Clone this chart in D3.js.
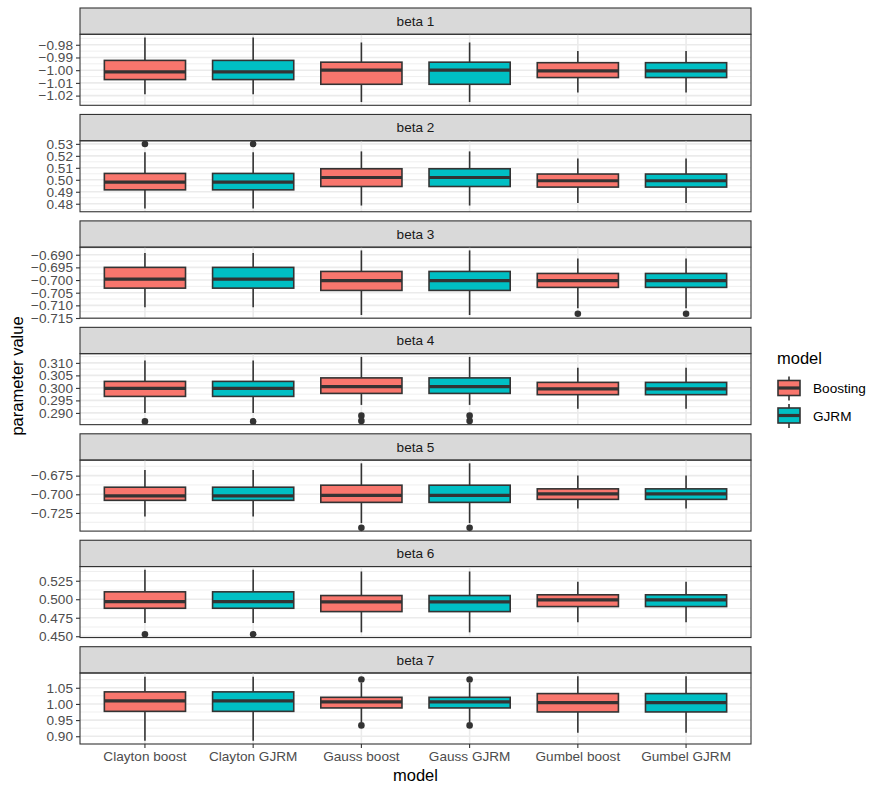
<!DOCTYPE html>
<html>
<head>
<meta charset="utf-8">
<script src="https://cdn.jsdelivr.net/npm/d3@7"></script>
<style>
  body { margin: 0; background: #fff; }
  svg { display: block; font-family: "Liberation Sans", Arial, sans-serif; }
</style>
</head>
<body>
<svg id="chart" width="882" height="794"></svg>
<script>
// ---- data -------------------------------------------------------------
const facets = ["beta 1", "beta 2", "beta 3", "beta 4", "beta 5", "beta 6", "beta 7"];
const models = ["Clayton boost", "Clayton GJRM", "Gauss boost", "Gauss GJRM", "Gumbel boost", "Gumbel GJRM"];
const modelGroup = ["Boosting", "GJRM", "Boosting", "GJRM", "Boosting", "GJRM"];
const groups = ["Boosting", "GJRM"];

// box statistics, one row per facet, one value per model
const whiskerLow = [
  [-1.0190, -1.0190, -1.0251, -1.0251, -1.0175, -1.0175],
  [0.4760, 0.4760, 0.4785, 0.4785, 0.4807, 0.4807],
  [-0.7107, -0.7107, -0.7138, -0.7138, -0.7111, -0.7111],
  [0.2900, 0.2900, 0.2932, 0.2932, 0.2917, 0.2917],
  [-0.7297, -0.7297, -0.7386, -0.7386, -0.7189, -0.7189],
  [0.4680, 0.4680, 0.4553, 0.4553, 0.4688, 0.4688],
  [0.886, 0.886, 0.944, 0.944, 0.911, 0.911]
];
const q1 = [
  [-1.0074, -1.0074, -1.0111, -1.0111, -1.0058, -1.0058],
  [0.4916, 0.4916, 0.4944, 0.4944, 0.4939, 0.4939],
  [-0.7032, -0.7032, -0.7041, -0.7041, -0.7029, -0.7029],
  [0.2966, 0.2966, 0.2978, 0.2978, 0.2973, 0.2973],
  [-0.7081, -0.7081, -0.7108, -0.7108, -0.7068, -0.7068],
  [0.4878, 0.4878, 0.4833, 0.4833, 0.4901, 0.4901],
  [0.977, 0.977, 0.9876, 0.9876, 0.9752, 0.9752]
];
const median = [
  [-1.0013, -1.0013, -1.0000, -1.0000, -1.0005, -1.0005],
  [0.4981, 0.4981, 0.5019, 0.5019, 0.4992, 0.4992],
  [-0.6996, -0.6996, -0.7002, -0.7002, -0.7002, -0.7002],
  [0.2998, 0.2998, 0.3005, 0.3005, 0.2996, 0.2996],
  [-0.7020, -0.7020, -0.7014, -0.7014, -0.6995, -0.6995],
  [0.4969, 0.4969, 0.4965, 0.4965, 0.4992, 0.4992],
  [1.0093, 1.0093, 1.0062, 1.0062, 1.004, 1.004]
];
const q3 = [
  [-0.9923, -0.9923, -0.9937, -0.9937, -0.9941, -0.9941],
  [0.5053, 0.5053, 0.5092, 0.5092, 0.5048, 0.5048],
  [-0.6950, -0.6950, -0.6966, -0.6966, -0.6974, -0.6974],
  [0.3026, 0.3026, 0.3040, 0.3040, 0.3022, 0.3022],
  [-0.6905, -0.6905, -0.6878, -0.6878, -0.6927, -0.6927],
  [0.5100, 0.5100, 0.5050, 0.5050, 0.5060, 0.5060],
  [1.0373, 1.0373, 1.0205, 1.0205, 1.032, 1.032]
];
const whiskerHigh = [
  [-0.9743, -0.9743, -0.9782, -0.9782, -0.9849, -0.9849],
  [0.5229, 0.5229, 0.5237, 0.5237, 0.5178, 0.5178],
  [-0.6893, -0.6893, -0.6883, -0.6883, -0.6915, -0.6915],
  [0.3110, 0.3110, 0.3124, 0.3124, 0.3081, 0.3081],
  [-0.6676, -0.6676, -0.6585, -0.6585, -0.6747, -0.6747],
  [0.5398, 0.5398, 0.5375, 0.5375, 0.5236, 0.5236],
  [1.0839, 1.0839, 1.065, 1.065, 1.0857, 1.0857]
];
const outliers = [
  [[], [], [], [], [], []],
  [[0.5299], [0.5299], [], [], [], []],
  [[], [], [], [], [-0.7133], [-0.7133]],
  [[0.2866], [0.2866], [0.2889, 0.2868], [0.2889, 0.2868], [], []],
  [[], [], [-0.7450], [-0.7450], [], []],
  [[0.4526], [0.4526], [], [], [], []],
  [[], [], [1.0755, 0.9335], [1.0755, 0.9335], [], []]
];

// tick values shown on each facet's y axis
const yTicks = [
  [-1.02, -1.01, -1.00, -0.99, -0.98],
  [0.48, 0.49, 0.50, 0.51, 0.52, 0.53],
  [-0.715, -0.710, -0.705, -0.700, -0.695, -0.690],
  [0.290, 0.295, 0.300, 0.305, 0.310],
  [-0.725, -0.700, -0.675],
  [0.450, 0.475, 0.500, 0.525],
  [0.90, 0.95, 1.00, 1.05]
];
const yTickFormat = [".2f", ".2f", ".3f", ".3f", ".3f", ".3f", ".2f"];

// ---- layout -----------------------------------------------------------
const svg = d3.select("#chart");
const plotLeft = 80, plotRight = 751, plotTop = 8, plotBottom = 744;
const stripH = 26.3, gap = 9.15;
const facetH = (plotBottom - plotTop - gap * (facets.length - 1)) / facets.length;
const panelH = facetH - stripH;
const smallFont = 13.6, titleFont = 16.5;

const fill = d3.scaleOrdinal().domain(groups).range(["#F8766D", "#00BFC4"]);
const x = d3.scaleBand().domain(models).range([plotLeft, plotRight]).paddingInner(0).paddingOuter(0.1);
const boxW = x.bandwidth() * 0.75;
const cx = m => x(m) + x.bandwidth() / 2;
const ink = "#333333";
const fmtMinus = s => s.replace("-", "\u2212");

facets.forEach((name, f) => {
  const y0 = plotTop + f * (facetH + gap);
  const py0 = y0 + stripH, py1 = py0 + panelH;

  const all = whiskerLow[f].concat(whiskerHigh[f], outliers[f].flat());
  const lo = d3.min(all), hi = d3.max(all), pad = (hi - lo) * 0.05;
  const y = d3.scaleLinear().domain([lo - pad, hi + pad]).range([py1, py0]);

  const g = svg.append("g");

  // strip
  g.append("rect").attr("x", plotLeft).attr("y", y0).attr("width", plotRight - plotLeft).attr("height", stripH)
    .attr("fill", "#D9D9D9").attr("stroke", ink).attr("stroke-width", 1.1);
  g.append("text").attr("x", (plotLeft + plotRight) / 2).attr("y", y0 + stripH / 2 + 4.8)
    .attr("text-anchor", "middle").attr("font-size", smallFont).attr("fill", "#1A1A1A").text(name);

  // grid
  const ticks = yTicks[f];
  const step = ticks[1] - ticks[0];
  const [dLo, dHi] = y.domain();
  const minors = [];
  for (let v = ticks[0] - step * Math.ceil((ticks[0] - dLo) / step) - step / 2; v <= dHi; v += step) {
    if (v >= dLo) minors.push(v);
  }
  g.selectAll(".minor").data(minors).join("line")
    .attr("x1", plotLeft).attr("x2", plotRight).attr("y1", d => y(d)).attr("y2", d => y(d))
    .attr("stroke", "#EBEBEB").attr("stroke-width", 0.8);
  g.selectAll(".major").data(ticks).join("line")
    .attr("x1", plotLeft).attr("x2", plotRight).attr("y1", d => y(d)).attr("y2", d => y(d))
    .attr("stroke", "#EBEBEB").attr("stroke-width", 1.6);
  g.selectAll(".vgrid").data(models).join("line")
    .attr("x1", cx).attr("x2", cx).attr("y1", py0).attr("y2", py1)
    .attr("stroke", "#EBEBEB").attr("stroke-width", 1.6);

  // boxes
  models.forEach((m, i) => {
    const c = cx(m);
    g.append("line").attr("x1", c).attr("x2", c)
      .attr("y1", y(whiskerHigh[f][i])).attr("y2", y(q3[f][i]))
      .attr("stroke", ink).attr("stroke-width", 1.6);
    g.append("line").attr("x1", c).attr("x2", c)
      .attr("y1", y(q1[f][i])).attr("y2", y(whiskerLow[f][i]))
      .attr("stroke", ink).attr("stroke-width", 1.6);
    g.append("rect").attr("x", c - boxW / 2).attr("width", boxW)
      .attr("y", y(q3[f][i])).attr("height", y(q1[f][i]) - y(q3[f][i]))
      .attr("fill", fill(modelGroup[i])).attr("stroke", ink).attr("stroke-width", 1.6);
    g.append("line").attr("x1", c - boxW / 2).attr("x2", c + boxW / 2)
      .attr("y1", y(median[f][i])).attr("y2", y(median[f][i]))
      .attr("stroke", ink).attr("stroke-width", 3.2);
    g.selectAll(null).data(outliers[f][i]).join("circle")
      .attr("cx", c).attr("cy", d => y(d)).attr("r", 3.3).attr("fill", ink);
  });

  // panel border
  g.append("rect").attr("x", plotLeft).attr("y", py0).attr("width", plotRight - plotLeft).attr("height", panelH)
    .attr("fill", "none").attr("stroke", ink).attr("stroke-width", 1.1);

  // y axis
  const yAxis = d3.axisLeft(y).tickValues(ticks).tickSizeOuter(0).tickSize(4).tickPadding(3)
    .tickFormat(d => fmtMinus(d3.format(yTickFormat[f])(d)));
  const ya = g.append("g").attr("transform", `translate(${plotLeft},0)`).call(yAxis);
  ya.select(".domain").remove();
  ya.selectAll("line").attr("stroke", ink).attr("stroke-width", 1.1);
  ya.selectAll("text").attr("font-size", smallFont).attr("fill", "#4D4D4D")
    .attr("font-family", "Liberation Sans, Arial, sans-serif");

  // x axis on last facet
  if (f === facets.length - 1) {
    const xa = g.append("g").attr("transform", `translate(0,${py1})`)
      .call(d3.axisBottom(x).tickSizeOuter(0).tickSize(4).tickPadding(3));
    xa.select(".domain").remove();
    xa.selectAll("line").attr("stroke", ink).attr("stroke-width", 1.1);
    xa.selectAll("text").attr("font-size", smallFont).attr("fill", "#4D4D4D")
      .attr("font-family", "Liberation Sans, Arial, sans-serif");
  }
});

// axis titles
svg.append("text").attr("x", (plotLeft + plotRight) / 2).attr("y", 781)
  .attr("text-anchor", "middle").attr("font-size", titleFont).attr("fill", "#000").text("model");
svg.append("text").attr("transform", `translate(23,${(plotTop + plotBottom) / 2}) rotate(-90)`)
  .attr("text-anchor", "middle").attr("font-size", titleFont).attr("fill", "#000").text("parameter value");

// legend
const lg = svg.append("g");
lg.append("text").attr("x", 777).attr("y", 364).attr("font-size", titleFont).attr("fill", "#000").text("model");
groups.forEach((grp, i) => {
  const kc = 388 + i * 27.5, kx = 789;
  lg.append("line").attr("x1", kx).attr("x2", kx).attr("y1", kc - 11.5).attr("y2", kc + 12.5)
    .attr("stroke", ink).attr("stroke-width", 1.6);
  lg.append("rect").attr("x", kx - 11).attr("y", kc - 7.5).attr("width", 22).attr("height", 15)
    .attr("fill", fill(grp)).attr("stroke", ink).attr("stroke-width", 1.6);
  lg.append("line").attr("x1", kx - 11).attr("x2", kx + 11).attr("y1", kc).attr("y2", kc)
    .attr("stroke", ink).attr("stroke-width", 3.2);
  lg.append("text").attr("x", 813).attr("y", kc + 5).attr("font-size", smallFont).attr("fill", "#000").text(grp);
});
</script>
</body>
</html>
